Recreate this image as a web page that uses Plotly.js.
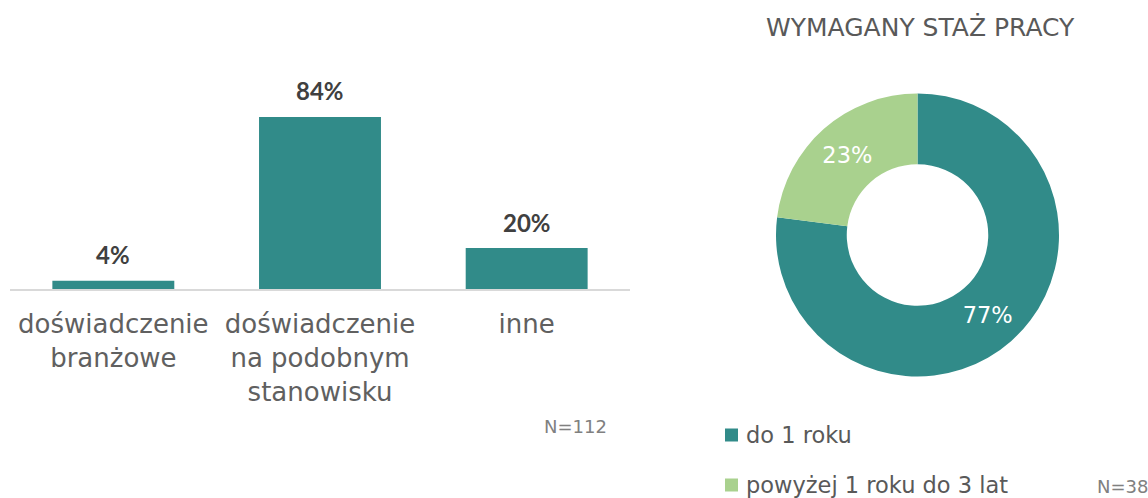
<!DOCTYPE html>
<html>
<head>
<meta charset="utf-8">
<script src="https://cdn.plot.ly/plotly-3.0.1.min.js"></script>
<style>html,body{margin:0;padding:0;background:#fff;}#chart{width:1148px;height:498px;}</style>
</head>
<body>
<div id="chart"></div>
<script>
// Bar chart data
const barCategories = ['doświadczenie<br>branżowe', 'doświadczenie<br>na podobnym<br>stanowisku', 'inne'];
const barValues = [4, 84, 20];
const barNote = 'N=112';

// Donut data
const pieTitle = 'WYMAGANY STAŻ PRACY';
const pieLabels = ['do 1 roku', 'powyżej 1 roku do 3 lat'];
const pieValues = [77, 23];
const pieNote = 'N=38';

const TEAL = '#318B89';
const GREEN = '#A9D18E';
const pieColors = [TEAL, GREEN];
const FONT = 'DejaVu Sans';

const W = 1148, H = 498;
const px = v => v / W;
const py = v => 1 - v / H;

const barTrace = {
  type: 'bar',
  x: barCategories,
  y: barValues,
  marker: {color: TEAL},
  hoverinfo: 'none',
  xaxis: 'x', yaxis: 'y'
};

const pieTrace = {
  type: 'pie',
  labels: pieLabels,
  values: pieValues,
  marker: {colors: pieColors, line: {width: 0}},
  hole: 0.5,
  sort: false,
  direction: 'clockwise',
  rotation: 0,
  texttemplate: '%{value}%',
  textposition: 'inside',
  insidetextorientation: 'horizontal',
  textfont: {family: FONT, size: 22.5, color: '#ffffff'},
  hoverinfo: 'none',
  showlegend: false,
  domain: {x: [px(776), px(1059)], y: [py(376.5), py(93.5)]}
};

const annotations = [];
// bar value labels
barCategories.forEach((c, i) => {
  annotations.push({
    x: c, y: barValues[i], xref: 'x', yref: 'y',
    text: barValues[i] + '%', showarrow: false,
    yanchor: 'middle', yshift: 26,
    font: {family: 'Lato, Roboto, sans-serif', size: 24, weight: 700, color: '#404040'}
  });
});
// notes
annotations.push({x: px(575), y: py(426), xref: 'paper', yref: 'paper', text: barNote, showarrow: false,
  xanchor: 'center', yanchor: 'middle', font: {family: FONT, size: 18, color: '#808080'}});
annotations.push({x: px(1095), y: py(486), xref: 'paper', yref: 'paper', text: pieNote, showarrow: false,
  xanchor: 'left', yanchor: 'middle', font: {family: FONT, size: 18, color: '#808080'}});
// pie title
annotations.push({x: px(920), y: py(27), xref: 'paper', yref: 'paper', text: pieTitle, showarrow: false,
  xanchor: 'center', yanchor: 'middle', font: {family: FONT, size: 25, color: '#595959'}});

// legend (manual)
const shapes = [];
const legendY = [435, 485];
pieLabels.forEach((lab, i) => {
  shapes.push({type: 'rect', xref: 'paper', yref: 'paper',
    x0: px(725), x1: px(738), y0: py(legendY[i] + 6.5), y1: py(legendY[i] - 6.5),
    fillcolor: pieColors[i], line: {width: 0}});
  annotations.push({x: px(744), y: py(legendY[i]), xref: 'paper', yref: 'paper', text: lab, showarrow: false,
    xanchor: 'left', yanchor: 'middle', font: {family: FONT, size: 22.5, color: '#595959'}});
});

const layout = {
  width: W, height: H,
  margin: {l: 0, r: 0, t: 0, b: 0},
  paper_bgcolor: '#ffffff',
  plot_bgcolor: '#ffffff',
  showlegend: false,
  bargap: 0.41,
  xaxis: {
    domain: [px(10), px(630)],
    showline: true, linecolor: '#d9d9d9', linewidth: 2,
    showgrid: false, zeroline: false, ticks: '',
    ticklabelstandoff: 11,
    tickfont: {family: FONT, size: 26, color: '#606060'},
    fixedrange: true
  },
  yaxis: {
    domain: [py(289), py(84.2)],
    range: [0, 100],
    visible: false,
    showgrid: false, zeroline: false,
    fixedrange: true
  },
  annotations: annotations,
  shapes: shapes
};

Plotly.newPlot('chart', [barTrace, pieTrace], layout, {displayModeBar: false, staticPlot: true});
</script>
</body>
</html>
